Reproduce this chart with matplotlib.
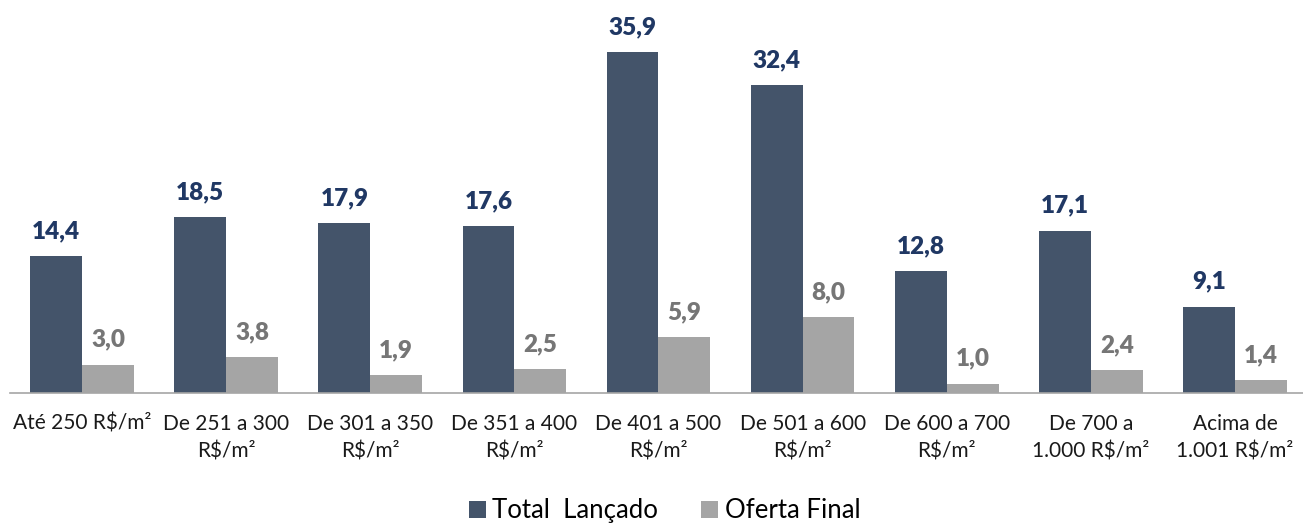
import numpy as np
import matplotlib
matplotlib.use("Agg")
from matplotlib import pyplot as plt

categories = ["Até 250 R$/m²", "De 251 a 300\nR$/m²", "De 301 a 350\nR$/m²",
              "De 351 a 400\nR$/m²", "De 401 a 500\nR$/m²", "De 501 a 600\nR$/m²",
              "De 600 a 700\nR$/m²", "De 700 a\n1.000 R$/m²", "Acima de\n1.001 R$/m²"]
total_lancado = [14.4, 18.5, 17.9, 17.6, 35.9, 32.4, 12.8, 17.1, 9.1]
oferta_final = [3.0, 3.8, 1.9, 2.5, 5.9, 8.0, 1.0, 2.4, 1.4]

darkColor = "#44546A"
grayColor = "#A5A5A5"
darkText = "#203864"
grayText = "#767676"

plt.rcParams['font.family'] = ['Lato', 'DejaVu Sans']

fig = plt.figure(figsize=(13.03, 5.23), dpi=100)
ax = fig.add_axes([10/1303, 1 - 393/523, 1297/1303, 393/523])

x = np.arange(len(categories))
w = 0.36
b1 = ax.bar(x - w/2, total_lancado, w, color=darkColor, label="Total  Lançado")
b2 = ax.bar(x + w/2, oferta_final, w, color=grayColor, label="Oferta Final")

def fmt(v):
    return ("%.1f" % v).replace(".", ",")

for rect, v in zip(b1, total_lancado):
    ax.annotate(fmt(v), (rect.get_x() + rect.get_width()/2, v), xytext=(0, 10),
                textcoords="offset points", ha="center", va="bottom",
                fontsize=17.5, fontweight="heavy", color=darkText)
for rect, v in zip(b2, oferta_final):
    ax.annotate(fmt(v), (rect.get_x() + rect.get_width()/2, v), xytext=(0, 10),
                textcoords="offset points", ha="center", va="bottom",
                fontsize=17.5, fontweight="heavy", color=grayText)

ax.set_xlim(-0.5, len(categories) - 0.5)
ax.set_ylim(0, 41.4)
ax.set_xticks(x)
ax.set_xticklabels(categories, fontsize=15, color="#1a1a1a", linespacing=1.45)
ax.tick_params(axis="x", length=0, pad=15)
ax.set_yticks([])
for s in ["top", "right", "left"]:
    ax.spines[s].set_visible(False)
ax.spines["bottom"].set_color("#A6A6A6")
ax.spines["bottom"].set_linewidth(1.2)

fig.legend(handles=[b1, b2], loc="lower center", bbox_to_anchor=(0.51, -0.045), ncol=2,
           frameon=False, fontsize=18.5, handlelength=0.65, handleheight=0.65,
           handletextpad=0.25, columnspacing=1.7)

fig.savefig("out.png", dpi=100)
